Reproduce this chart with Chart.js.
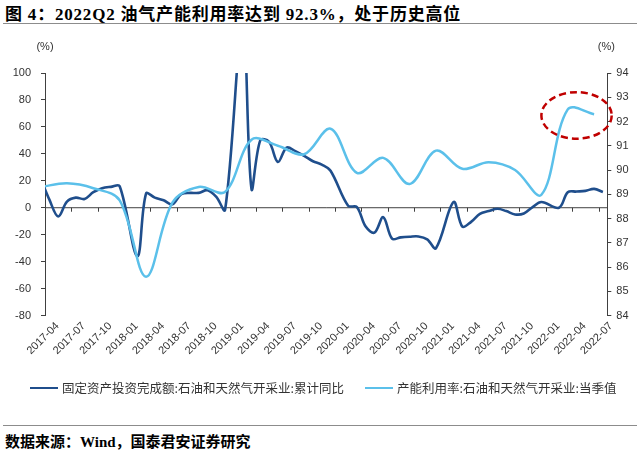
<!DOCTYPE html>
<html>
<head>
<meta charset="utf-8">
<script src="https://cdn.jsdelivr.net/npm/chart.js@4.4.1/dist/chart.umd.min.js"></script>
<style>
  body { margin: 0; background: #fff; }
  #wrap { position: relative; width: 640px; height: 453px; overflow: hidden; font-family: "Noto Sans CJK SC", sans-serif; }
  #title { position: absolute; left: 5px; top: 0px; font: bold 17px "Liberation Serif", "Noto Sans CJK SC"; letter-spacing: 0.8px; color: #000; white-space: nowrap; }
  .rule { position: absolute; left: 3px; width: 634px; height: 1px; background: #8c8c8c; }
  #chartBox { position: absolute; left: 0; top: 30px; width: 640px; height: 345px; }
  #legend { position: absolute; left: 30px; top: 374px; font-size: 12.5px; color: #333; white-space: nowrap; }
  #legend .item { display: inline-flex; align-items: center; }
  #legend .item + .item { margin-left: 21px; }
  #legend .swatch { display: inline-block; width: 28px; height: 2.5px; margin-right: 4px; }
  #source { position: absolute; left: 5px; top: 430px; font: bold 15px "Liberation Serif", "Noto Sans CJK SC"; color: #000; white-space: nowrap; }
</style>
</head>
<body>
<div id="wrap">
  <div id="title">图 4：2022Q2 油气产能利用率达到 92.3%，处于历史高位</div>
  <div class="rule" style="top:23px"></div>
  <div id="chartBox"><canvas id="c" width="640" height="345"></canvas></div>
  <div id="legend"></div>
  <div class="rule" style="top:425px"></div>
  <div id="source">数据来源：Wind，国泰君安证券研究</div>
</div>
<script>
// month categories, 2017-03 .. 2022-07 (2017-03 sits just left of the visible axis)
const months = [];
for (let y = 2017; y <= 2022; y++) {
  for (let m = 1; m <= 12; m++) {
    const s = y + '-' + String(m).padStart(2, '0');
    if (s >= '2017-03' && s <= '2022-07') months.push(s);
  }
}

// 固定资产投资完成额:石油和天然气开采业:累计同比 (%), monthly, no January prints
const investYoY = [
  22, 6, -6.5, 4.5, 7.5, 6.5, 11.5, 14.5, 15.5, 16,            // 2017-03..12
  null, -36, 10.5, 7.5, 5.5, 2.5, 10, 11, 11, 13, 8, -1.5,     // 2018
  null, 140, 14, 50, 49, 34, 44.6, 42, 38.5, 34.5, 32, 27.5,   // 2019
  null, 1.5, 0.5, -14, -18.5, -7, -23, -22, -21.5, -21.3, -23.5, -30, // 2020
  null, 4.2, -14, -10.5, -4.5, -2.5, -0.8, -2.5, -5, -4.3, 0.5, 4.2,   // 2021
  null, 0, 11.5, 12, 12.5, 14, 11.6                            // 2022
];

// 产能利用率:石油和天然气开采业:当季值 (%), quarterly
const capQuarters = [
  '2017-03', '2017-06', '2017-09', '2017-12',
  '2018-03', '2018-06', '2018-09', '2018-12',
  '2019-03', '2019-06', '2019-09', '2019-12',
  '2020-03', '2020-06', '2020-09', '2020-12',
  '2021-03', '2021-06', '2021-09', '2021-12',
  '2022-03', '2022-06'
];
const capValues = [
  89.3, 89.45, 89.25, 88.75,
  85.6, 88.65, 89.3, 89.1,
  91.25, 91.0, 90.65, 91.7,
  89.88, 90.5, 89.42, 90.8,
  90.05, 90.32, 90.0, 88.98,
  92.5, 92.3
];

const leftTicks = [-80, 100, 20];   // min, max, step
const rightTicks = [84, 94, 1];

const investName = '固定资产投资完成额:石油和天然气开采业:累计同比';
const capName = '产能利用率:石油和天然气开采业:当季值';
const DARK = '#1f4e8c';
const LIGHT = '#5bc0ea';
const AXIS = '#404040';

const capSeries = months.map(m => {
  const k = capQuarters.indexOf(m);
  return k < 0 ? null : capValues[k];
});

const decor = {
  id: 'decor',
  beforeDatasetsDraw(chart) {
    const { ctx, chartArea, scales } = chart;
    const x = scales.x, y = scales.y;
    const y0 = y.getPixelForValue(0);
    const half = (x.getPixelForValue(1) - x.getPixelForValue(0)) / 2;
    ctx.save();
    ctx.strokeStyle = AXIS;
    ctx.lineWidth = 1;
    ctx.beginPath();
    ctx.moveTo(chartArea.left, y0);
    ctx.lineTo(chartArea.right, y0);
    x.ticks.forEach(t => {
      if (!t.label) return;
      const px = Math.round(x.getPixelForValue(t.value) - half) + 0.5;
      ctx.moveTo(px, y0);
      ctx.lineTo(px, y0 + 4);
    });
    ctx.stroke();
    ctx.restore();
  },
  afterDraw(chart) {
    const { ctx, chartArea, scales } = chart;
    const x = scales.x, yr = scales.y1;
    ctx.save();
    ctx.fillStyle = '#333';
    ctx.font = '11px "Liberation Sans"';
    ctx.textAlign = 'center';
    ctx.textBaseline = 'middle';
    ctx.fillText('(%)', chartArea.left, chartArea.top - 26);
    ctx.fillText('(%)', chartArea.right - 1, chartArea.top - 26);
    // highlight ring around the latest readings
    const i = months.indexOf('2022-04');
    const step = x.getPixelForValue(1) - x.getPixelForValue(0);
    const cx = x.getPixelForValue(i);
    const cy = yr.getPixelForValue(92.25);
    const ry = yr.getPixelForValue(91.29) - cy;
    ctx.strokeStyle = '#c00000';
    ctx.lineWidth = 2.5;
    ctx.setLineDash([7, 4]);
    ctx.beginPath();
    ctx.ellipse(cx, cy, step * 4, ry, 0, 0, Math.PI * 2);
    ctx.stroke();
    ctx.restore();
  }
};

const tickFont = { family: 'Liberation Sans', size: 11 };

const chart = new Chart(document.getElementById('c'), {
  type: 'line',
  data: {
    labels: months,
    datasets: [
      { label: investName, data: investYoY, yAxisID: 'y', borderColor: DARK, borderWidth: 2.6,
        pointRadius: 0, tension: 0.35, spanGaps: true, order: 1 },
      { label: capName, data: capSeries, yAxisID: 'y1', borderColor: LIGHT, borderWidth: 2.5,
        pointRadius: 0, tension: 0.35, spanGaps: true, order: 0 }
    ]
  },
  options: {
    responsive: false,
    animation: false,
    layout: { padding: { top: 43, left: 0, right: 0, bottom: 0 } },
    plugins: { legend: { display: false }, tooltip: { enabled: false } },
    scales: {
      x: {
        type: 'category',
        min: '2017-04',
        offset: true,
        grid: { display: false, drawTicks: false },
        border: { display: false },
        ticks: {
          autoSkip: false, maxRotation: 45, minRotation: 45, labelOffset: 8, padding: 4,
          color: '#333', font: tickFont,
          callback(v) {
            const s = this.getLabelForValue(v);
            return /-(01|04|07|10)$/.test(s) ? s : '';
          }
        },
        afterFit(s) { s.height = 59.5; }
      },
      y: {
        position: 'left', min: leftTicks[0], max: leftTicks[1],
        ticks: { stepSize: leftTicks[2], padding: 10, color: '#333', font: tickFont },
        grid: { drawOnChartArea: false, tickLength: 4, color: AXIS },
        border: { color: AXIS },
        afterFit(s) { s.width = 45; }
      },
      y1: {
        position: 'right', min: rightTicks[0], max: rightTicks[1],
        ticks: { stepSize: rightTicks[2], padding: 5, color: '#333', font: tickFont },
        grid: { drawOnChartArea: false, tickLength: 4, color: AXIS },
        border: { color: AXIS },
        afterFit(s) { s.width = 32.7; }
      }
    }
  },
  plugins: [decor]
});

// legend built from the datasets
const legend = document.getElementById('legend');
chart.data.datasets.forEach(ds => {
  const item = document.createElement('span');
  item.className = 'item';
  const sw = document.createElement('span');
  sw.className = 'swatch';
  sw.style.background = ds.borderColor;
  item.appendChild(sw);
  item.appendChild(document.createTextNode(ds.label));
  legend.appendChild(item);
});
</script>
</body>
</html>
